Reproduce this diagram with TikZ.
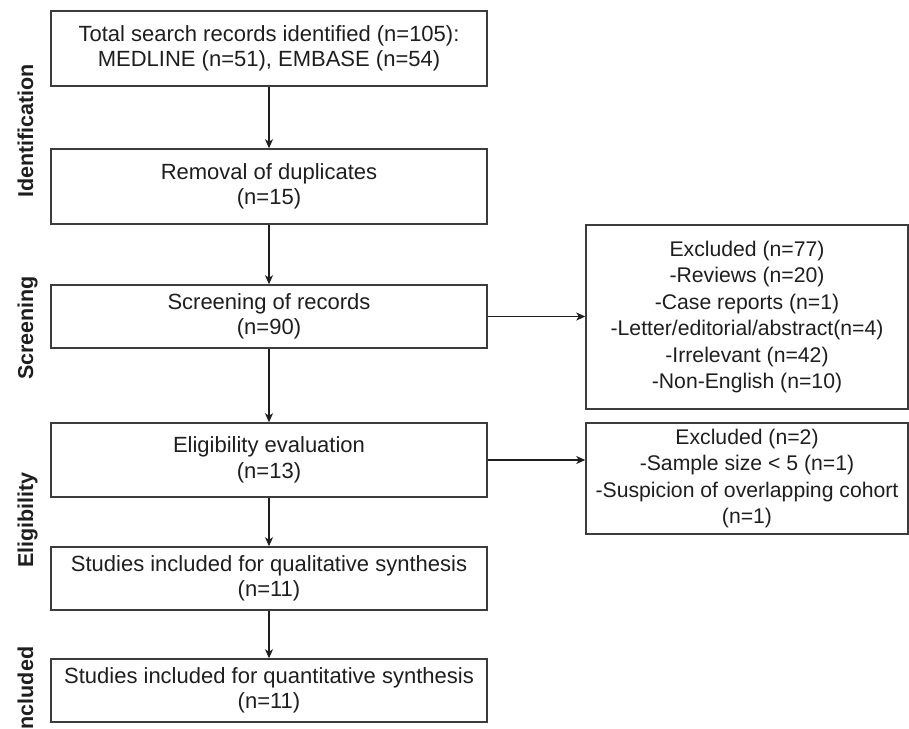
\documentclass[tikz,border=0pt]{standalone}
\usepackage{fontspec}
\setmainfont{Liberation Sans}
\usetikzlibrary{arrows.meta}
\definecolor{txt}{RGB}{30,30,30}
\definecolor{edge}{RGB}{60,60,60}
\tikzset{
  box/.style={draw=edge, line width=1.5pt, text=txt, align=center, inner sep=0pt,
    font=\fontsize{22}{25.5}\selectfont},
  lbox/.style={box, minimum width=436pt},
  rbox/.style={box, minimum width=322pt, font=\fontsize{21.2}{26.4}\selectfont},
  phase/.style={rotate=90, anchor=base, text=txt, inner sep=0pt,
    font=\fontsize{21.5}{24}\selectfont\bfseries},
  conn/.style={draw=txt, line width=1.3pt, -{Stealth[length=9pt,width=8pt,inset=2.5pt]}}
}
\begin{document}
\begin{tikzpicture}[x=1pt,y=-1pt]
\useasboundingbox (0,0) rectangle (909,728);

\node[lbox, minimum height=75pt] (b1) at (269,48.5) {Total search records identified (n=105):\\MEDLINE (n=51), EMBASE (n=54)};
\node[lbox, minimum height=75pt] (b2) at (269,186.5) {Removal of duplicates\\(n=15)};
\node[lbox, minimum height=63pt] (b3) at (269,316.5) {Screening of records\\(n=90)};
\node[lbox, minimum height=74pt] (b4) at (269,460) {Eligibility evaluation\\(n=13)};
\node[lbox, minimum height=63pt] (b5) at (269,578.5) {Studies included for qualitative synthesis\\(n=11)};
\node[lbox, minimum height=63pt] (b6) at (269,690.5) {Studies included for quantitative synthesis\\(n=11)};

\node[rbox, minimum height=184pt] (r1) at (747,317) {Excluded (n=77)\\-Reviews (n=20)\\-Case reports (n=1)\\-Letter/editorial/abstract(n=4)\\-Irrelevant (n=42)\\-Non-English (n=10)};
\node[rbox, minimum height=111pt] (r2) at (747,478.5) {Excluded (n=2)\\-Sample size < 5 (n=1)\\-Suspicion of overlapping cohort\\(n=1)};

\node[phase] (p1) at (33,131) {Identification};
\node[phase] (p2) at (33,328) {Screening};
\node[phase] (p3) at (33,520) {Eligibility};
\node[phase] (p4) at (33,691) {Included};

\draw[conn] (b1) -- (b2);
\draw[conn] (b2) -- (b3);
\draw[conn] (b3) -- (b4);
\draw[conn] (b4) -- (b5);
\draw[conn] (b5) -- (b6);
\draw[conn] (b3.east) -- (b3.east -| r1.west);
\draw[conn] (b4.east) -- (b4.east -| r2.west);
\end{tikzpicture}
\end{document}
